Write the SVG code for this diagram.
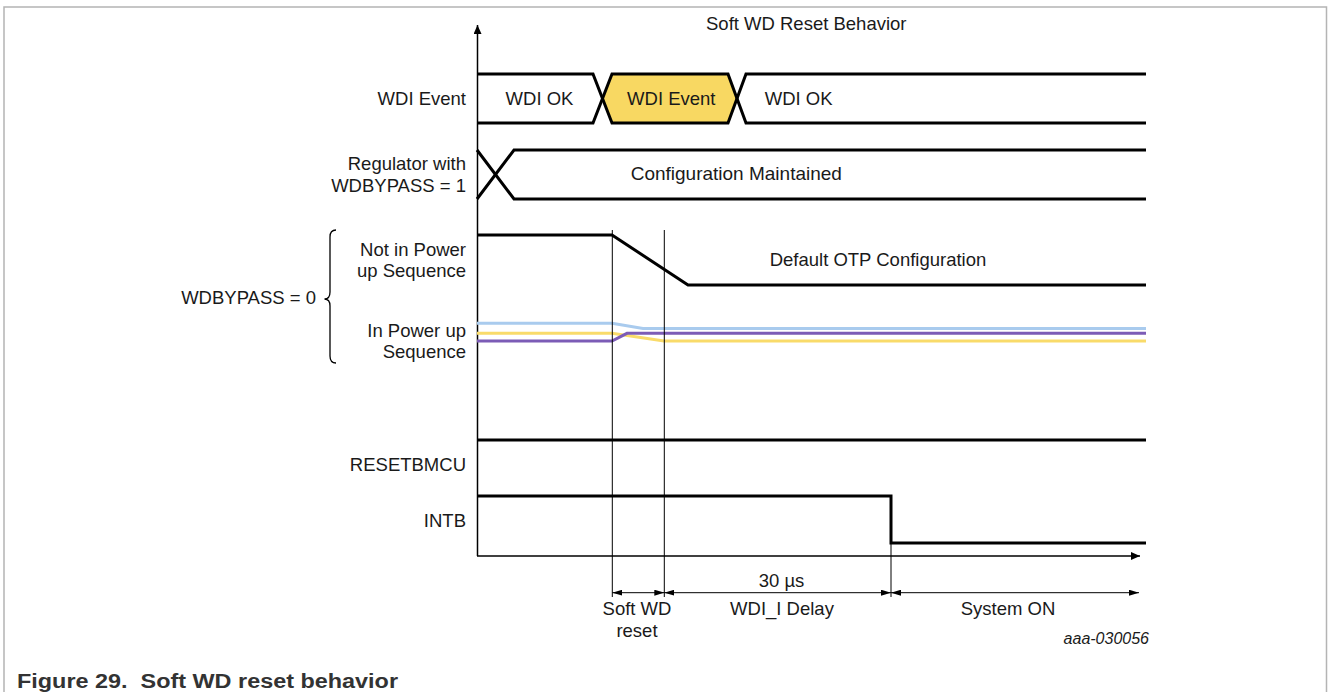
<svg xmlns="http://www.w3.org/2000/svg" width="1328" height="692" viewBox="0 0 1328 692">
<style>
text{font-family:"Liberation Sans",Arial,sans-serif;font-size:18.5px;fill:#1a1a1a}
.e{text-anchor:end}
.m{text-anchor:middle}
.sig{fill:none;stroke:#000;stroke-width:3;stroke-linejoin:miter}
.axis{fill:none;stroke:#000;stroke-width:1.5}
.thin{fill:none;stroke:#000;stroke-width:1}
.frame{fill:none;stroke:#b4b4b4;stroke-width:1.5}
</style>
<defs>
<marker id="dimA" viewBox="0 0 10 6" refX="10" refY="3" markerWidth="10" markerHeight="6" markerUnits="userSpaceOnUse" orient="auto-start-reverse">
<path d="M0,0 L10,3 L0,6 Z" fill="#000"/>
</marker>
<marker id="axA" viewBox="0 0 9 8" refX="9" refY="4" markerWidth="9" markerHeight="8" markerUnits="userSpaceOnUse" orient="auto">
<path d="M0,0 L9,4 L0,8 Z" fill="#000"/>
</marker>
</defs>
<rect width="1328" height="692" fill="#fff"/>
<path class="frame" d="M4,720 V7 H1326.5 V720"/>

<g id="title"><text x="706" y="30">Soft WD Reset Behavior</text></g>

<g id="axes">
<path class="axis" d="M477.5,556 V25" marker-end="url(#axA)"/>
<path class="axis" d="M477,556 H1140" marker-end="url(#axA)"/>
</g>

<g id="wdi-event">
<text class="e" x="466" y="104.5">WDI Event</text>
<polygon points="602.5,98.5 612,74 728,74 737,98.5 728,123 612,123" fill="#F8D862"/>
<path class="sig" d="M477,74 H593 L612,123 H728 L746,74 H1146"/>
<path class="sig" d="M477,123 H593 L612,74 H728 L746,123 H1146"/>
<text class="m" x="539.5" y="104.5">WDI OK</text>
<text class="m" x="671.3" y="104.5">WDI Event</text>
<text class="m" x="798.7" y="104.5">WDI OK</text>
</g>

<g id="regulator">
<text class="e" x="466" y="170">Regulator with</text>
<text class="e" x="466" y="192">WDBYPASS = 1</text>
<path class="sig" d="M477,150 L514,199 H1146"/>
<path class="sig" d="M477,199 L514,150 H1146"/>
<text class="m" x="736.3" y="180" style="font-size:19px">Configuration Maintained</text>
</g>

<g id="wdbypass0">
<text class="e" x="316" y="304">WDBYPASS = 0</text>
<path fill="none" stroke="#000" stroke-width="1.3" d="M336,230 Q330,230 330,237 V292 Q330,299 324.5,299 Q330,299 330,306 V356 Q330,363 336,363"/>
</g>

<g id="not-in-power-up">
<text class="e" x="466" y="256">Not in Power</text>
<text class="e" x="466" y="277">up Sequence</text>
<path class="sig" d="M477,235 H612 L688,285 H1146"/>
<text class="m" x="878" y="266">Default OTP Configuration</text>
</g>

<g id="in-power-up">
<text class="e" x="466" y="336.7">In Power up</text>
<text class="e" x="466" y="358">Sequence</text>
<path fill="none" stroke="#A9CBEE" stroke-width="3" d="M477,323.3 H612 L643,328.5 H1146"/>
<path fill="none" stroke="#F9DB6A" stroke-width="3" d="M477,333.3 H612 L664,341 H1146"/>
<path fill="none" stroke="#7C5CB6" stroke-width="3" d="M477,341 H612 L627,333.3 H1146"/>
</g>

<g id="resetbmcu">
<text class="e" x="466" y="470.7">RESETBMCU</text>
<path class="sig" d="M477,440 H1146"/>
</g>

<g id="intb">
<text class="e" x="466" y="526.7">INTB</text>
<path class="sig" d="M477,496 H891 V543 H1146"/>
</g>

<g id="connectors">
<path class="thin" d="M612.3,230 V597"/>
<path class="thin" d="M664.3,230 V597"/>
<path class="thin" d="M891,543 V597"/>
<path class="thin" d="M612.3,592.7 H664.3" marker-start="url(#dimA)" marker-end="url(#dimA)"/>
<path class="thin" d="M664.3,592.7 H891" marker-start="url(#dimA)" marker-end="url(#dimA)"/>
<path class="thin" d="M891,592.7 H1139" marker-start="url(#dimA)" marker-end="url(#dimA)"/>
</g>

<g id="dim-labels">
<text class="m" x="637" y="615">Soft WD</text>
<text class="m" x="637" y="637">reset</text>
<text class="m" x="781.5" y="586.5">30 µs</text>
<text class="m" x="782" y="615">WDI_I Delay</text>
<text class="m" x="1008" y="615">System ON</text>
</g>

<g id="figure-id"><text class="e" x="1149" y="644" style="font-size:16px;font-style:italic">aaa-030056</text></g>

<g id="caption"><text x="17" y="687.7" xml:space="preserve" textLength="381" lengthAdjust="spacingAndGlyphs" style="font-size:20px;font-weight:bold;fill:#333">Figure 29.  Soft WD reset behavior</text></g>
</svg>
